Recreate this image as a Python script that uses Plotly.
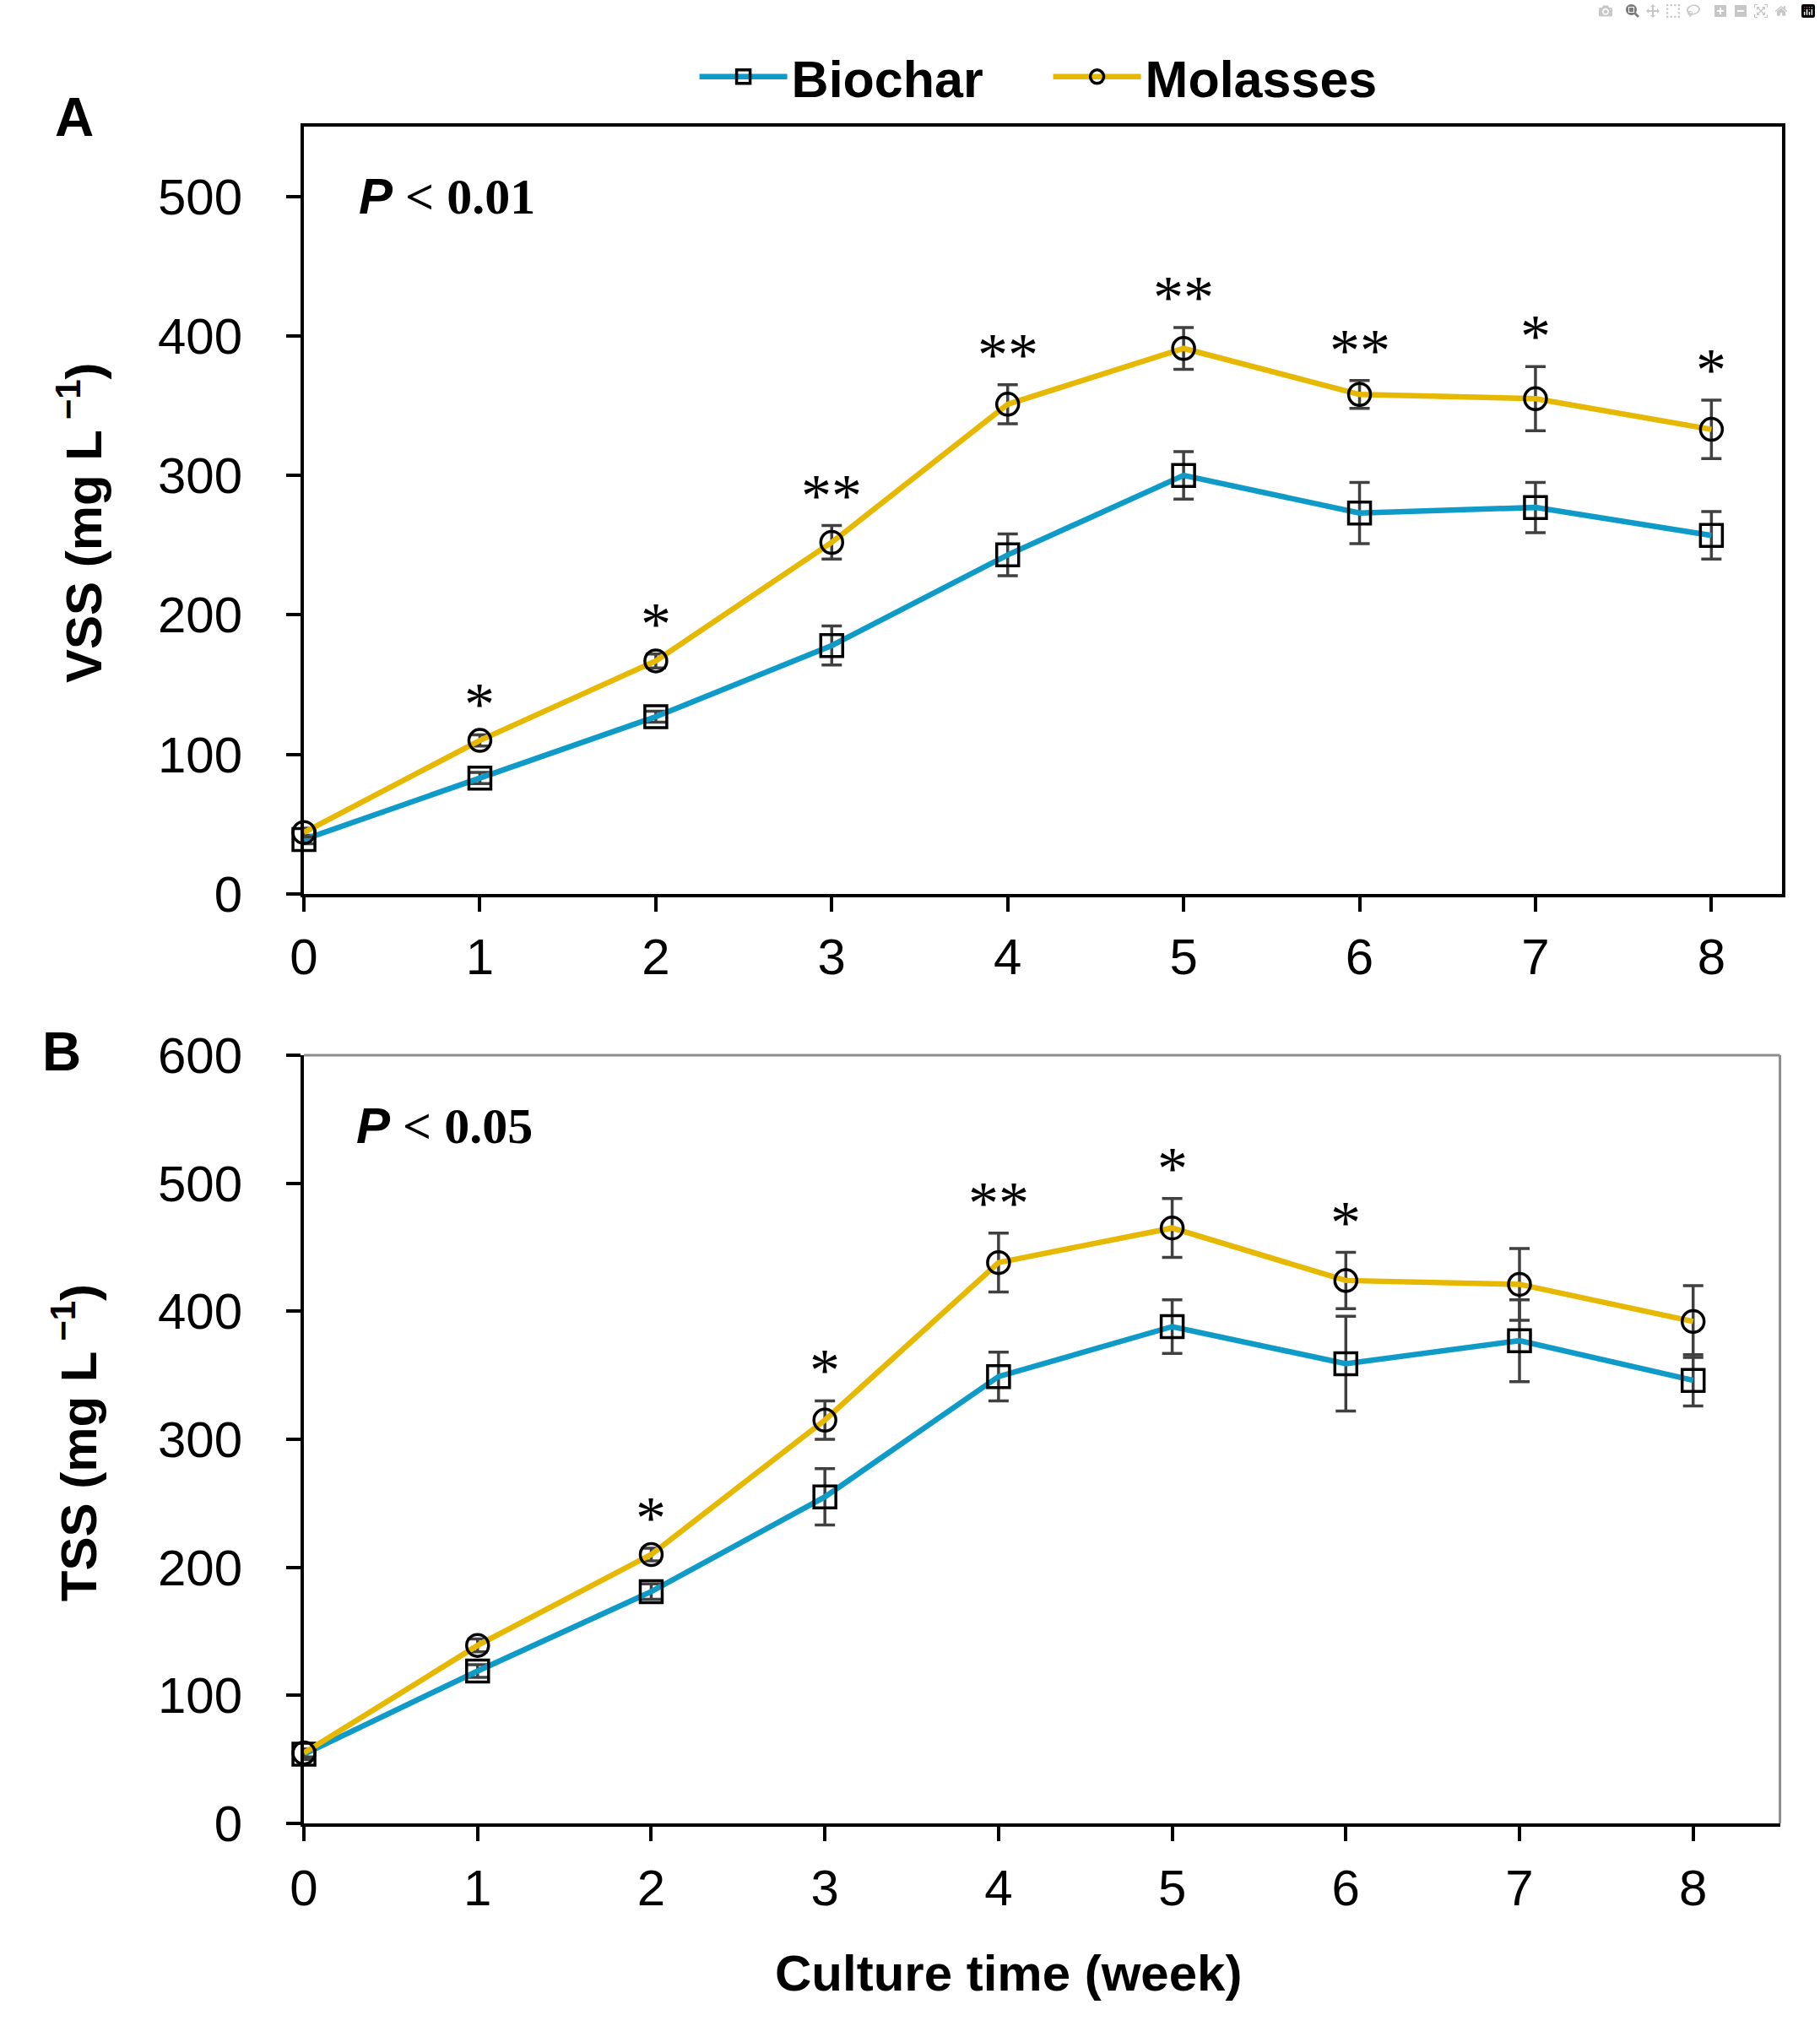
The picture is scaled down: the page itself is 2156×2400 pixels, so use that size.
import plotly.graph_objects as go

# culture time (week)
weeks = [0, 1, 2, 3, 4, 5, 6, 7, 8]

# panel A: VSS (mg/L), mean and SD
vss_biochar = [39, 83, 127, 178, 243, 300, 273, 277, 257]
vss_biochar_sd = [3, 4, 4, 14, 15, 17, 22, 18, 17]
vss_molasses = [44, 110, 167, 252, 351, 391, 358, 355, 333]
vss_molasses_sd = [3, 4, 5, 12, 14, 15, 10, 23, 21]
vss_sig = ["", "*", "*", "**", "**", "**", "**", "*", "*"]

# panel B: TSS (mg/L), mean and SD
tss_biochar = [54, 119, 181, 255, 349, 388, 359, 377, 346]
tss_biochar_sd = [4, 5, 6, 22, 19, 21, 37, 32, 20]
tss_molasses = [55, 139, 210, 315, 438, 465, 424, 421, 392]
tss_molasses_sd = [3, 5, 5, 15, 23, 23, 22, 28, 28]
tss_sig = ["", "", "*", "*", "**", "*", "*", "", ""]

blue = '#0E9BC7'
yellow = '#E6B800'
sans = 'Liberation Sans, Arial'
serif = 'Liberation Serif, Times New Roman'

fig = go.Figure()


def add_series(y, sd, name, color, symbol, xa, ya, show):
    fig.add_trace(go.Scatter(
        x=weeks, y=y, name=name, mode='lines+markers',
        xaxis=xa, yaxis=ya, showlegend=show, cliponaxis=False,
        line=dict(color=color, width=6.5),
        marker=dict(symbol=symbol, size=26, color='black', line=dict(width=3.5)),
        error_y=dict(type='data', array=sd, color='#404040', thickness=3.5, width=12),
    ))


add_series(vss_biochar, vss_biochar_sd, 'Biochar', blue, 'square-open', 'x', 'y', True)
add_series(vss_molasses, vss_molasses_sd, 'Molasses', yellow, 'circle-open', 'x', 'y', True)
add_series(tss_biochar, tss_biochar_sd, 'Biochar', blue, 'square-open', 'x2', 'y2', False)
add_series(tss_molasses, tss_molasses_sd, 'Molasses', yellow, 'circle-open', 'x2', 'y2', False)

axis_common = dict(showline=True, linecolor='black', linewidth=4, showgrid=False, zeroline=False,
                   ticks='outside', ticklen=17, tickwidth=4, tickcolor='black', automargin=False,
                   tickfont=dict(family=sans, size=60, color='black'))

fig.update_layout(
    width=2156, height=2400,
    margin=dict(l=0, r=0, t=0, b=0, autoexpand=False),
    paper_bgcolor='white', plot_bgcolor='white',
    font=dict(family=sans, color='black'),
    xaxis=dict(domain=[0.167, 0.979], range=[0, 8.4], dtick=1, anchor='y', mirror=True,
               ticklabelstandoff=2, **axis_common),
    yaxis=dict(domain=[0.5588, 0.9375], range=[0, 550], dtick=100, anchor='x', mirror=True,
               ticklabelstandoff=40, **axis_common),
    xaxis2=dict(domain=[0.167, 0.978], range=[0, 8.5], dtick=1, anchor='y2',
                ticklabelstandoff=4, **axis_common),
    yaxis2=dict(domain=[0.1, 0.4792], range=[0, 600], dtick=100, anchor='x2',
                ticklabelstandoff=40, **axis_common),
    legend=dict(orientation='h', x=0.382, xanchor='left', y=0.962, yanchor='middle',
                font=dict(family=sans, size=61, weight='bold', color='black'),
                itemwidth=104, entrywidth=300, bgcolor='rgba(0,0,0,0)'),
)

# grey top/right frame of panel B
fig.add_shape(type='line', xref='x2 domain', yref='y2 domain', x0=0, x1=1, y0=1, y1=1,
              line=dict(color='#8c8c8c', width=3))
fig.add_shape(type='line', xref='x2 domain', yref='y2 domain', x0=1, x1=1, y0=0, y1=1,
              line=dict(color='#8c8c8c', width=3))

# significance stars above the molasses error bars
for xa, ya, vals, sds, sig in [('x', 'y', vss_molasses, vss_molasses_sd, vss_sig),
                               ('x2', 'y2', tss_molasses, tss_molasses_sd, tss_sig)]:
    for w, v, s, t in zip(weeks, vals, sds, sig):
        if t:
            fig.add_annotation(x=w, y=v + s, xref=xa, yref=ya, text=t, showarrow=False,
                               xanchor='center', yanchor='bottom', yshift=-6,
                               font=dict(family=serif, size=72, color='black'))

# P-values
p_text = "<b><i>P</i></b><span style='font-family:Liberation Serif'><b> &lt; {}</b></span>"
fig.add_annotation(x=0.3, y=500, xref='x', yref='y', text=p_text.format('0.01'), showarrow=False,
                   xanchor='left', yanchor='middle', font=dict(family=sans, size=60, color='black'))
fig.add_annotation(x=0.29, y=545, xref='x2', yref='y2', text=p_text.format('0.05'), showarrow=False,
                   xanchor='left', yanchor='middle', font=dict(family=sans, size=60, color='black'))

# axis titles and panel letters
title_font = dict(family=sans, size=60, color='black', weight='bold')
texts = [
    (0.044, 0.742, 'VSS (mg L<sup> −1</sup>)', -90, title_font),
    (0.041, 0.288, 'TSS (mg L<sup> −1</sup>)', -90, title_font),
    (0.554, 0.026, 'Culture time (week)', 0, title_font),
    (0.041, 0.942, 'A', 0, dict(family=sans, size=64, color='black', weight='bold')),
    (0.034, 0.481, 'B', 0, dict(family=sans, size=64, color='black', weight='bold')),
]
for x, y, t, ang, f in texts:
    fig.add_annotation(x=x, y=y, xref='paper', yref='paper', text=t, textangle=ang,
                       xanchor='center', yanchor='middle', showarrow=False, font=f)

fig.write_html("out.html", post_script="document.body.style.margin='0';")
